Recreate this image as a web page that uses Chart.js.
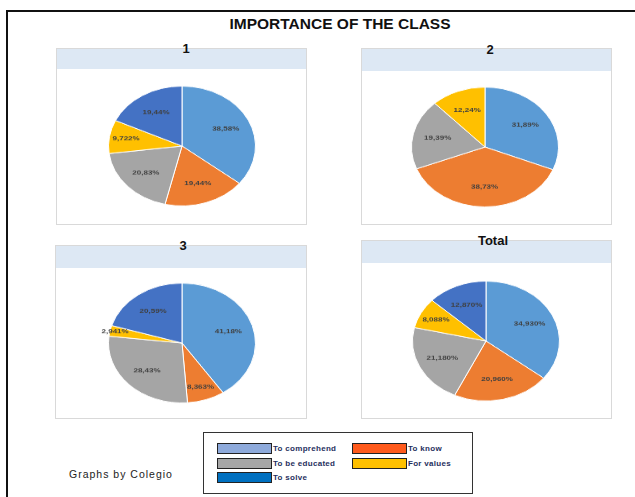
<!DOCTYPE html>
<html>
<head>
<meta charset="utf-8">
<script src="https://cdn.jsdelivr.net/npm/chart.js@4.4.1/dist/chart.umd.min.js"></script>
<style>
  body { margin: 0; width: 635px; height: 497px; background: #fff; position: relative; overflow: hidden;
         font-family: "Liberation Sans", Arial, sans-serif; }
  .outer { position: absolute; left: 6px; top: 10px; width: 640px; height: 500px;
           border-left: 2px solid #111; border-top: 2px solid #111; }
  .main-title { position: absolute; left: 0; width: 680px; top: 15px; text-align: center;
                font-weight: bold; font-size: 15.5px; color: #111; }
  .panel { position: absolute; border: 1px solid #d9d9d9; background: #fff; }
  .band { position: absolute; left: 0; right: 0; top: 0; background: #dde8f4; }
  .ptitle { position: absolute; font-weight: bold; font-size: 13px; color: #111; transform: translate(-50%, -50%); }
  .pie { position: absolute; width: 168px; height: 168px; transform: scaleY(0.815); }
  .legend { position: absolute; left: 203px; top: 432px; width: 268px; height: 60px; border: 1.5px solid #333; }
  .sw { position: absolute; width: 53px; height: 9px; border: 1px solid #222; }
  .lt { position: absolute; font-size: 8px; font-weight: bold; color: #1f2f5e; letter-spacing: 0.3px; }
  .credit { position: absolute; left: 69px; top: 468px; font-size: 10.5px; letter-spacing: 1px; color: #222; }
</style>
</head>
<body>
<div class="outer"></div>
<div class="main-title">IMPORTANCE OF THE CLASS</div>
<div id="panels"></div>
<div class="legend" id="legend"></div>
<div class="credit">Graphs by Colegio</div>

<script>
const categories = ['To comprehend', 'To know', 'To be educated', 'For values', 'To solve'];
const sliceColors = ['#5b9bd5', '#ed7d31', '#a5a5a5', '#ffc000', '#4472c4'];
const legendColors = ['#8eaadb', '#ff5a1c', '#a6a6a6', '#ffc000', '#0070c0'];
const chartTitles = ['1', '2', '3', 'Total'];

const values1 = [38.58, 19.44, 20.83, 9.722, 19.44];
const values2 = [31.89, 38.73, 19.39, 12.24, 0];
const values3 = [41.18, 8.363, 28.43, 2.941, 20.59];
const valuesTotal = [34.93, 20.96, 21.18, 8.088, 12.87];

// layout of each panel: frame box, band height, title spot, pie centre
const panels = [
  { values: values1, box: [56, 48, 251, 177], band: 20, title: [186, 48], pie: [182, 146], fmt: v => v.toPrecision(4) },
  { values: values2, box: [361, 48, 251, 177], band: 22, title: [490, 49], pie: [485, 147], fmt: v => v.toPrecision(4) },
  { values: values3, box: [55, 245, 252, 174], band: 22, title: [183, 245], pie: [182, 343], fmt: v => v.toPrecision(4) },
  { values: valuesTotal, box: [361, 240, 251, 179], band: 22, title: [493, 240], pie: [486, 341], fmt: v => v.toFixed(3) }
];

// percent labels inside the slices
const sliceLabels = {
  id: 'sliceLabels',
  afterDatasetsDraw(chart, args, opts) {
    const ctx = chart.ctx;
    const meta = chart.getDatasetMeta(0);
    const vals = chart.data.datasets[0].data;
    const total = vals.reduce((a, b) => a + b, 0);
    ctx.save();
    ctx.font = 'bold 8px "Liberation Sans", Arial, sans-serif';
    ctx.fillStyle = '#404040';
    ctx.textAlign = 'center';
    ctx.textBaseline = 'middle';
    meta.data.forEach((arc, i) => {
      if (!vals[i]) return;
      const p = arc.getProps(['x', 'y', 'startAngle', 'endAngle', 'outerRadius'], true);
      const mid = (p.startAngle + p.endAngle) / 2;
      const frac = vals[i] / total;
      const k = frac < 0.05 ? 0.93 : frac < 0.1 ? 0.77 : 0.66;
      const txt = opts.format(vals[i]).replace('.', ',') + '%';
      ctx.fillText(txt, p.x + Math.cos(mid) * p.outerRadius * k, p.y + Math.sin(mid) * p.outerRadius * k);
    });
    ctx.restore();
  }
};

const holder = document.getElementById('panels');
panels.forEach((pn, idx) => {
  const frame = document.createElement('div');
  frame.className = 'panel';
  frame.style.left = pn.box[0] + 'px';
  frame.style.top = pn.box[1] + 'px';
  frame.style.width = (pn.box[2] - 2) + 'px';
  frame.style.height = (pn.box[3] - 2) + 'px';
  const band = document.createElement('div');
  band.className = 'band';
  band.style.height = pn.band + 'px';
  frame.appendChild(band);
  holder.appendChild(frame);

  const wrap = document.createElement('div');
  wrap.className = 'pie';
  wrap.style.left = (pn.pie[0] - 84) + 'px';
  wrap.style.top = (pn.pie[1] - 84) + 'px';
  const cv = document.createElement('canvas');
  wrap.appendChild(cv);
  holder.appendChild(wrap);

  const t = document.createElement('div');
  t.className = 'ptitle';
  t.textContent = chartTitles[idx];
  t.style.left = pn.title[0] + 'px';
  t.style.top = pn.title[1] + 'px';
  holder.appendChild(t);

  new Chart(cv, {
    type: 'pie',
    data: {
      labels: categories,
      datasets: [{
        data: pn.values,
        backgroundColor: sliceColors,
        borderColor: '#ffffff',
        borderWidth: 1
      }]
    },
    options: {
      responsive: true,
      maintainAspectRatio: false,
      animation: false,
      layout: { padding: 10 },
      plugins: {
        legend: { display: false },
        tooltip: { enabled: false },
        sliceLabels: { format: pn.fmt }
      }
    },
    plugins: [sliceLabels]
  });
});

// legend: two columns, three rows
const legend = document.getElementById('legend');
const legendSpots = [[13, 10], [148, 10], [13, 25], [148, 25], [13, 39]];
categories.forEach((name, i) => {
  const sw = document.createElement('div');
  sw.className = 'sw';
  sw.style.left = legendSpots[i][0] + 'px';
  sw.style.top = legendSpots[i][1] + 'px';
  sw.style.background = legendColors[i];
  legend.appendChild(sw);
  const lt = document.createElement('div');
  lt.className = 'lt';
  lt.textContent = name;
  lt.style.left = (legendSpots[i][0] + 56) + 'px';
  lt.style.top = (legendSpots[i][1] + 1) + 'px';
  legend.appendChild(lt);
});
</script>
</body>
</html>
